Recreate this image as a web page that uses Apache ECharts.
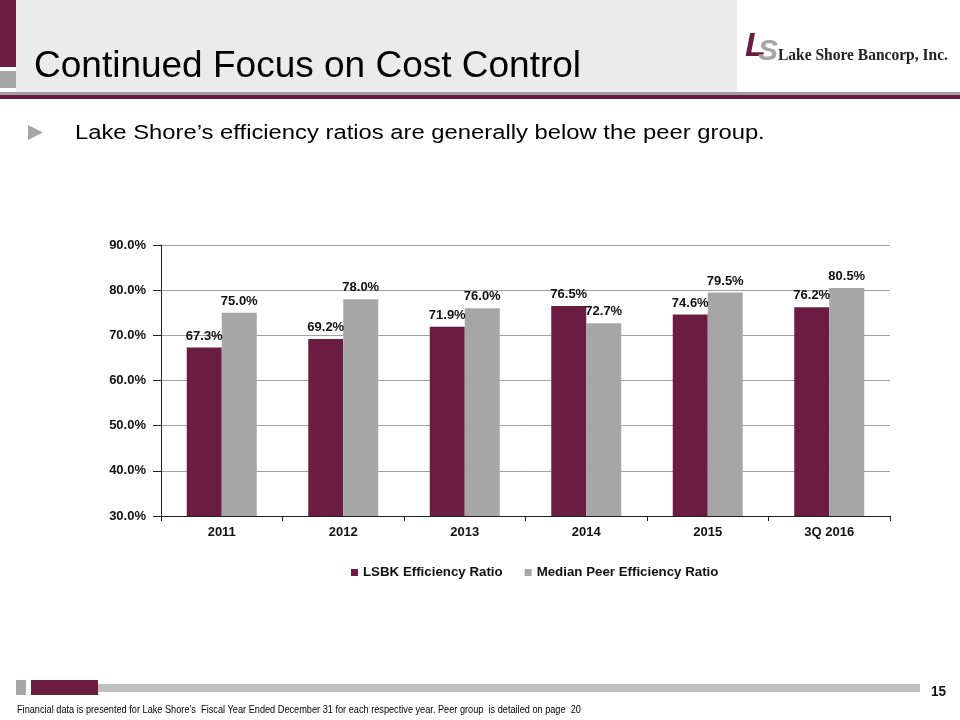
<!DOCTYPE html>
<html><head><meta charset="utf-8">
<script src="https://cdn.jsdelivr.net/npm/echarts@6/dist/echarts.min.js"></script>
<style>html,body{margin:0;padding:0;background:#fff}#c{width:960px;height:720px}</style>
</head><body><div id="c"></div>
<script>
const categories = ['2011','2012','2013','2014','2015','3Q 2016'];
const lsbk = [67.3, 69.2, 71.9, 76.5, 74.6, 76.2];
const peer = [75.0, 78.0, 76.0, 72.7, 79.5, 80.5];
const seriesNames = ['LSBK Efficiency Ratio','Median Peer Efficiency Ratio'];
const MAROON = '#6b1c42', GRAY = '#a6a6a6';
const FONT = 'Liberation Sans, Arial';
const chart = echarts.init(document.getElementById('c'));
const lbl = {show:true, position:'top', distance:5, fontFamily:FONT, fontWeight:'bold', fontSize:13, color:'#111', formatter: p => p.value.toFixed(1)+'%'};
chart.setOption({
  animation:false,
  grid:{left:161, right:70, top:245, bottom:204},
  legend:{top:561, left:346, itemWidth:7, itemHeight:7, itemGap:22, icon:'rect',
    textStyle:{fontFamily:FONT, fontWeight:'bold', fontSize:13.3, color:'#111'}, data:seriesNames},
  xAxis:{type:'category', data:categories,
    axisLine:{lineStyle:{color:'#222', width:1}},
    axisTick:{show:true, length:5, lineStyle:{color:'#222'}},
    axisLabel:{margin:10, fontFamily:FONT, fontWeight:'bold', fontSize:13, color:'#111'}},
  yAxis:{type:'value', min:30, max:90, interval:10,
    axisLine:{show:true, lineStyle:{color:'#222'}},
    axisTick:{show:true, length:8, lineStyle:{color:'#222'}},
    splitLine:{lineStyle:{color:'#a0a0a0'}},
    axisLabel:{margin:15, fontFamily:FONT, fontWeight:'bold', fontSize:13, color:'#111', formatter:v=>v.toFixed(1)+'%'}},
  series:[
    {name:seriesNames[0], type:'bar', data:lsbk, barWidth:35, barGap:'0%', itemStyle:{color:MAROON}, label:lbl},
    {name:seriesNames[1], type:'bar', data:peer, barWidth:35, barGap:'0%', itemStyle:{color:GRAY}, label:lbl}
  ],
  graphic:[
    {type:'rect', shape:{x:16,y:0,width:721,height:92}, style:{fill:'#ebebeb'}, silent:true},
    {type:'rect', shape:{x:0,y:0,width:16,height:67}, style:{fill:MAROON}},
    {type:'rect', shape:{x:0,y:71,width:16,height:17}, style:{fill:'#a6a6a6'}},
    {type:'rect', shape:{x:0,y:92,width:960,height:3}, style:{fill:'#a0a0a0'}},
    {type:'rect', shape:{x:0,y:95,width:960,height:4}, style:{fill:MAROON}},
    {type:'text', x:34, y:48, style:{text:'Continued Focus on Cost Control', fontFamily:FONT, fontSize:37, fill:'#000'}},
    {type:'text', x:745, y:30, style:{text:'L', fontFamily:FONT, fontStyle:'italic', fontWeight:'bold', fontSize:34, fill:MAROON}},
    {type:'text', x:758, y:37, style:{text:'S', fontFamily:FONT, fontStyle:'italic', fontWeight:'bold', fontSize:30, fill:'#a6a6a6'}},
    {type:'text', x:778, y:47, scaleX:0.94, style:{text:'Lake Shore Bancorp, Inc.', fontFamily:'Liberation Serif, Times New Roman', fontWeight:'bold', fontSize:16.5, fill:'#222'}},
    {type:'polygon', shape:{points:[[28,125],[28,140],[43,132.5]]}, style:{fill:'#a6a6a6'}},
    {type:'text', x:75, y:123, scaleX:1.19, style:{text:'Lake Shore\u2019s efficiency ratios are generally below the peer group.', fontFamily:FONT, fontSize:20, fill:'#000'}},
    {type:'rect', shape:{x:16,y:680,width:10,height:15}, style:{fill:'#a6a6a6'}},
    {type:'rect', shape:{x:31,y:680,width:67,height:15}, style:{fill:MAROON}},
    {type:'rect', shape:{x:98,y:684,width:822,height:8}, style:{fill:'#c0c0c0'}},
    {type:'text', x:931, y:684, scaleX:0.9, style:{text:'15', fontFamily:FONT, fontWeight:'bold', fontSize:15, fill:'#111'}},
    {type:'text', x:17, y:705, scaleX:0.918, style:{text:'Financial data is presented for Lake Shore\u2019s  Fiscal Year Ended December 31 for each respective year. Peer group  is detailed on page  20', fontFamily:FONT, fontSize:10, fill:'#000'}}
  ]
});
</script></body></html>
